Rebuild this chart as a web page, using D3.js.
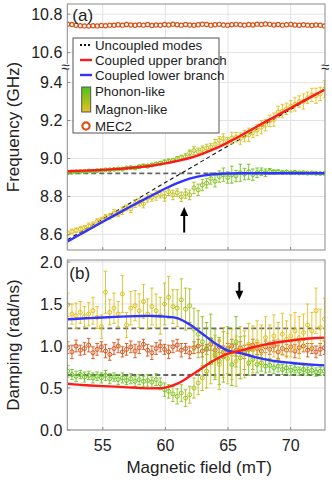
<!DOCTYPE html>
<html><head><meta charset="utf-8">
<script src="https://cdn.jsdelivr.net/npm/d3@7"></script>
<style>body{margin:0;background:#fff}svg{display:block}text{font-family:"Liberation Sans",Arial,Helvetica,sans-serif}</style>
</head><body><svg id="c" width="332" height="480"></svg>
<script>
// ---------------- data ----------------
const field = [
52.20,52.54,52.87,53.21,53.54,53.88,54.22,54.55,54.89,55.22,
55.56,55.90,56.23,56.57,56.90,57.24,57.58,57.91,58.25,58.58,
58.92,59.26,59.59,59.93,60.26,60.60,60.94,61.27,61.61,61.94,
62.28,62.62,62.95,63.29,63.62,63.96,64.30,64.63,64.97,65.30,
65.64,65.98,66.31,66.65,66.98,67.32,67.66,67.99,68.33,68.66,
69.00,69.34,69.67,70.01,70.34,70.68,71.02,71.35,71.69,72.02,
72.36,72.70];

const mec2Freq = [
10.748,10.746,10.742,10.740,10.739,10.738,10.740,10.739,10.741,10.740,
10.743,10.742,10.745,10.743,10.746,10.744,10.742,10.745,10.743,10.746,
10.741,10.744,10.742,10.746,10.744,10.748,10.745,10.743,10.746,10.744,
10.742,10.745,10.748,10.746,10.743,10.745,10.747,10.744,10.742,10.745,
10.747,10.745,10.743,10.746,10.744,10.748,10.746,10.749,10.747,10.744,
10.746,10.743,10.745,10.747,10.744,10.742,10.745,10.743,10.741,10.744,
10.742,10.739];

const upperFreq = [
8.925,8.928,8.930,8.931,8.932,8.934,8.933,8.936,8.938,8.940,
8.941,8.943,8.945,8.944,8.950,8.952,8.950,8.957,8.962,8.960,
8.966,8.971,8.975,8.982,8.985,8.990,8.998,9.005,9.010,9.030,
9.042,9.035,9.048,9.055,9.060,9.075,9.095,9.105,9.090,9.108,
9.112,9.105,9.118,9.125,9.135,9.150,9.165,9.175,9.198,9.205,
9.245,9.250,9.262,9.275,9.285,9.300,9.300,9.320,9.335,9.330,
9.340,9.365];
const upperFreqErr = [
0.004,0.004,0.004,0.004,0.004,0.004,0.004,0.004,0.004,0.004,
0.004,0.004,0.004,0.006,0.006,0.006,0.006,0.008,0.006,0.008,
0.008,0.008,0.010,0.010,0.012,0.010,0.012,0.012,0.015,0.015,
0.020,0.020,0.018,0.020,0.020,0.025,0.020,0.025,0.020,0.030,
0.025,0.030,0.030,0.035,0.025,0.030,0.035,0.030,0.030,0.035,
0.030,0.035,0.030,0.030,0.035,0.030,0.040,0.030,0.035,0.040,
0.035,0.045];

const lowerFreq = [
8.605,8.615,8.622,8.628,8.635,8.645,8.650,8.668,8.675,8.690,
8.695,8.712,8.708,8.725,8.740,8.735,8.762,8.770,8.760,8.790,
8.795,8.805,8.812,8.800,8.825,8.808,8.820,8.798,8.815,8.808,
8.845,8.835,8.860,8.870,8.895,8.880,8.905,8.915,8.900,8.915,
8.908,8.925,8.918,8.930,8.915,8.925,8.930,8.925,8.932,8.928,
8.930,8.926,8.929,8.925,8.927,8.924,8.925,8.923,8.924,8.922,
8.921,8.922];
const lowerFreqErr = [
0.012,0.012,0.012,0.015,0.012,0.015,0.015,0.015,0.015,0.015,
0.015,0.020,0.015,0.020,0.015,0.020,0.020,0.020,0.020,0.020,
0.020,0.025,0.020,0.025,0.020,0.025,0.020,0.025,0.025,0.025,
0.030,0.030,0.030,0.025,0.030,0.030,0.030,0.035,0.030,0.045,
0.030,0.045,0.030,0.040,0.030,0.025,0.020,0.020,0.015,0.012,
0.010,0.008,0.006,0.006,0.005,0.005,0.005,0.004,0.004,0.004,
0.004,0.004];

const mec2Damp = [
0.98,0.93,1.00,0.95,0.97,1.01,0.92,0.96,0.99,0.94,
0.90,0.97,1.00,0.93,0.96,0.99,0.94,0.98,1.02,0.95,
0.92,0.97,1.00,0.96,0.93,0.99,1.01,0.95,0.97,0.92,
0.98,1.00,0.94,0.96,1.02,0.95,0.99,0.93,0.97,1.00,
0.95,0.98,0.93,0.96,1.01,0.97,0.94,0.99,0.96,1.00,
0.93,0.97,0.95,0.99,0.94,0.98,1.00,0.95,0.97,0.93,
0.96,0.98];
const mec2DampErr = [
0.07,0.08,0.07,0.06,0.07,0.08,0.07,0.07,0.06,0.08,
0.07,0.07,0.08,0.06,0.07,0.07,0.08,0.07,0.06,0.07,
0.08,0.07,0.07,0.06,0.08,0.07,0.07,0.08,0.06,0.07,
0.07,0.08,0.07,0.06,0.07,0.08,0.07,0.07,0.06,0.08,
0.07,0.07,0.08,0.06,0.07,0.07,0.08,0.07,0.06,0.07,
0.08,0.07,0.07,0.06,0.08,0.07,0.07,0.08,0.06,0.07,
0.07,0.08];

const lowerDamp = [
1.49,1.38,1.36,1.40,1.35,1.38,1.42,1.34,1.23,1.64,
1.40,1.45,1.38,1.62,1.25,1.45,1.48,1.42,1.53,1.38,
1.47,1.42,1.36,1.50,1.58,1.47,1.45,1.55,1.44,1.48,
1.20,1.14,1.05,0.98,1.08,0.90,0.82,0.87,0.95,0.78,
1.05,0.86,0.92,0.80,0.84,0.78,0.80,0.76,0.77,0.74,
0.76,0.72,0.74,0.71,0.73,0.70,0.72,0.70,0.71,0.69,
0.70,0.70];
const lowerDampErr = [
0.14,0.12,0.15,0.13,0.12,0.14,0.16,0.13,0.14,0.25,
0.15,0.18,0.15,0.22,0.15,0.20,0.18,0.20,0.20,0.18,
0.22,0.20,0.22,0.25,0.25,0.20,0.22,0.25,0.25,0.20,
0.25,0.28,0.30,0.30,0.30,0.30,0.28,0.30,0.28,0.25,
0.30,0.25,0.20,0.15,0.12,0.10,0.10,0.08,0.08,0.07,
0.07,0.06,0.06,0.06,0.05,0.05,0.05,0.05,0.05,0.05,
0.05,0.04];

const upperDamp = [
0.70,0.66,0.64,0.66,0.63,0.65,0.62,0.64,0.62,0.65,
0.61,0.63,0.60,0.62,0.59,0.61,0.58,0.60,0.58,0.59,
0.57,0.60,0.55,0.48,0.46,0.43,0.40,0.44,0.38,0.42,
0.50,0.56,0.62,0.70,0.80,0.88,0.78,0.92,0.85,0.90,
0.82,0.95,0.90,1.02,0.96,1.05,1.00,1.10,1.03,1.12,
1.06,1.14,1.08,1.12,1.18,1.10,1.16,1.25,1.18,1.42,
1.22,1.32];
const upperDampErr = [
0.07,0.06,0.06,0.05,0.06,0.05,0.06,0.05,0.06,0.06,
0.06,0.05,0.06,0.06,0.05,0.06,0.06,0.06,0.06,0.07,
0.06,0.07,0.07,0.08,0.08,0.09,0.09,0.10,0.10,0.10,
0.12,0.14,0.15,0.20,0.25,0.25,0.30,0.30,0.30,0.30,
0.30,0.28,0.28,0.25,0.28,0.25,0.25,0.25,0.22,0.25,
0.22,0.25,0.22,0.25,0.22,0.25,0.22,0.25,0.22,0.27,
0.22,0.25];

// fitted curves
const fitField = [52.2,53,54,55,56,57,58,59,60,61,62,63,64,65,66,67,68,69,70,71,72,72.7];
const fitUpperFreq = [8.933,8.935,8.937,8.940,8.944,8.949,8.955,8.963,8.974,8.988,9.004,9.026,9.053,9.085,9.120,9.157,9.194,9.230,9.266,9.302,9.338,9.362];
const fitLowerFreq = [8.563,8.593,8.630,8.667,8.703,8.739,8.774,8.808,8.842,8.872,8.895,8.910,8.918,8.921,8.922,8.922,8.922,8.922,8.922,8.922,8.922,8.922];
const fitUpperDamp = [0.55,0.54,0.53,0.522,0.516,0.508,0.50,0.496,0.505,0.555,0.645,0.745,0.84,0.91,0.945,0.985,1.02,1.045,1.065,1.083,1.095,1.10];
const fitLowerDamp = [1.318,1.325,1.332,1.34,1.347,1.353,1.357,1.358,1.35,1.33,1.25,1.14,1.03,0.945,0.915,0.875,0.84,0.815,0.80,0.785,0.775,0.77];

// uncoupled modes
const uncField = [52.17,72.74];
const magnonFreq = [8.572,9.364];
const phononFreq = [8.922,8.922];
const magnonDamp = [1.21,1.21];
const phononDamp = [0.655,0.655];

// ticks
const xTicks = [55,60,65,70];
const yTicksHi = [10.6,10.8];
const yTicksLo = [8.6,8.8,9.0,9.2,9.4];
const yTicksB = [0.0,0.5,1.0,1.5,2.0];

// annotations (data coords)
const arrowA = {field:61.5, from:8.61, to:8.745};
const arrowB = {field:65.9, from:1.76, to:1.55};

// ---------------- drawing ----------------
const svg = d3.select("#c");
const L = 67.3, R = 325;
const aTop = 4, aBreak = 67, aBot = 250, bTop = 260, bBot = 430;
const x = d3.scaleLinear().domain([52.17,72.74]).range([L,R]);
const yHi = d3.scaleLinear().domain([10.525,10.853]).range([aBreak,aTop]);
const yLo = d3.scaleLinear().domain([8.518,9.482]).range([aBot,aBreak]);
const yB = d3.scaleLinear().domain([0,2.024]).range([bBot,bTop]);

const GREEN = "#66c41e", YELLOW = "#e6c11f", ORANGE = "#d95319";
const RED = "#ff1a1a", BLUE = "#3333ff";
const gridC = "#e3e3e3", frameC = "#8a8a8a", textC = "#222";
const mix = d3.interpolateRgb(YELLOW, GREEN);

// colour weights (phonon fraction) from fitted and uncoupled curves
const fUs = d3.scaleLinear().domain(fitField).range(fitUpperFreq);
const fLs = d3.scaleLinear().domain(fitField).range(fitLowerFreq);
const fMs = d3.scaleLinear().domain(uncField).range(magnonFreq);
function phLower(h){const v=(fMs(h)-fLs(h))/(fUs(h)-fLs(h));return Math.max(0,Math.min(1,v));}
const colLower = field.map(h=>mix(phLower(h)));
const colUpper = field.map(h=>mix(1-phLower(h)));

// clip paths
const defs = svg.append("defs");
function clip(id,y0,y1){defs.append("clipPath").attr("id",id).append("rect").attr("x",L).attr("y",y0).attr("width",R-L).attr("height",y1-y0);}
clip("cHi",aTop,aBreak); clip("cLo",aBreak,aBot); clip("cB",bTop,bBot);
const grad = defs.append("linearGradient").attr("id","gr").attr("x1",0).attr("y1",0).attr("x2",0).attr("y2",1);
grad.append("stop").attr("offset","0%").attr("stop-color","#4fc01a");
grad.append("stop").attr("offset","100%").attr("stop-color","#e8c21e");

// grids
function grids(y0,y1){
  svg.append("g").selectAll("line").data(xTicks).join("line")
    .attr("x1",d=>x(d)).attr("x2",d=>x(d)).attr("y1",y0).attr("y2",y1)
    .attr("stroke",gridC).attr("stroke-width",1);
}
function hgrids(ticks,ys){
  svg.append("g").selectAll("line").data(ticks).join("line")
    .attr("x1",L).attr("x2",R).attr("y1",d=>ys(d)).attr("y2",d=>ys(d))
    .attr("stroke",gridC).attr("stroke-width",1);
}
grids(aTop,aBot); grids(bTop,bBot);
hgrids(yTicksHi,yHi); hgrids(yTicksLo,yLo); hgrids(yTicksB,yB);

// uncoupled dashed lines
function dashLine(g,xs,ys,ysc,col,w,dash){
  g.append("path").datum(xs.map((d,i)=>[d,ys[i]]))
   .attr("d",d3.line().x(d=>x(d[0])).y(d=>ysc(d[1])))
   .attr("fill","none").attr("stroke",col).attr("stroke-width",w).attr("stroke-dasharray",dash);
}
const gLo = svg.append("g").attr("clip-path","url(#cLo)");
const gHi = svg.append("g").attr("clip-path","url(#cHi)");
const gB = svg.append("g").attr("clip-path","url(#cB)");
dashLine(gLo,uncField,phononFreq,yLo,"#666",1.8,"5,3");
dashLine(gLo,uncField,magnonFreq,yLo,"#111",1.1,"4,3");
dashLine(gB,uncField,magnonDamp,yB,"#666",1.8,"5,3");
dashLine(gB,uncField,phononDamp,yB,"#666",1.8,"5,3");

// series with error bars
function series(g,xs,ys,errs,ysc,cols,r,sw){
  const s = g.append("g");
  const pts = xs.map((d,i)=>({x:d,y:ys[i],e:errs?errs[i]:0,c:cols[i]}));
  if(errs){
    const eb = s.selectAll("g.eb").data(pts).join("g").attr("stroke",d=>d.c).attr("stroke-width",0.9);
    eb.append("line").attr("x1",d=>x(d.x)).attr("x2",d=>x(d.x)).attr("y1",d=>ysc(d.y-d.e)).attr("y2",d=>ysc(d.y+d.e));
    eb.append("line").attr("x1",d=>x(d.x)-1.8).attr("x2",d=>x(d.x)+1.8).attr("y1",d=>ysc(d.y-d.e)).attr("y2",d=>ysc(d.y-d.e));
    eb.append("line").attr("x1",d=>x(d.x)-1.8).attr("x2",d=>x(d.x)+1.8).attr("y1",d=>ysc(d.y+d.e)).attr("y2",d=>ysc(d.y+d.e));
  }
  s.selectAll("circle").data(pts).join("circle")
   .attr("cx",d=>x(d.x)).attr("cy",d=>ysc(d.y)).attr("r",r)
   .attr("fill","none").attr("stroke",d=>d.c).attr("stroke-width",sw);
}
const orangeCols = field.map(()=>ORANGE);
series(gHi,field,mec2Freq,null,yHi,orangeCols,2.1,1.2);
series(gLo,field,upperFreq,upperFreqErr,yLo,colUpper,2.0,1.0);
series(gLo,field,lowerFreq,lowerFreqErr,yLo,colLower,2.0,1.0);
series(gB,field,mec2Damp,mec2DampErr,yB,orangeCols,2.0,1.0);
series(gB,field,lowerDamp,lowerDampErr,yB,colLower,2.0,1.0);
series(gB,field,upperDamp,upperDampErr,yB,colUpper,2.0,1.0);

// fitted curves
function fit(g,ys,ysc,col){
  g.append("path").datum(fitField.map((d,i)=>[d,ys[i]]))
   .attr("d",d3.line().x(d=>x(d[0])).y(d=>ysc(d[1])).curve(d3.curveCatmullRom))
   .attr("fill","none").attr("stroke",col).attr("stroke-width",2.4);
}
fit(gLo,fitUpperFreq,yLo,RED); fit(gLo,fitLowerFreq,yLo,BLUE);
fit(gB,fitLowerDamp,yB,BLUE); fit(gB,fitUpperDamp,yB,RED);

// frames
svg.append("rect").attr("x",L).attr("y",aTop).attr("width",R-L).attr("height",aBot-aTop).attr("fill","none").attr("stroke",frameC);
svg.append("rect").attr("x",L).attr("y",bTop).attr("width",R-L).attr("height",bBot-bTop).attr("fill","none").attr("stroke",frameC);

// ticks (inward) and labels
function yTicks(ticks,ysc){
  const g = svg.append("g");
  g.selectAll("line").data(ticks).join("line").attr("x1",L).attr("x2",L+3).attr("y1",d=>ysc(d)).attr("y2",d=>ysc(d)).attr("stroke",frameC);
  g.selectAll("text").data(ticks).join("text").attr("x",L-5).attr("y",d=>ysc(d)).attr("dy","0.36em")
   .attr("text-anchor","end").attr("font-size",16).attr("fill",textC).text(d=>d3.format(".1f")(d));
}
yTicks(yTicksHi,yHi); yTicks(yTicksLo,yLo); yTicks(yTicksB,yB);
svg.append("g").selectAll("line").data(xTicks).join("line").attr("x1",d=>x(d)).attr("x2",d=>x(d)).attr("y1",bBot).attr("y2",bBot-3).attr("stroke",frameC);
svg.append("g").selectAll("line").data(xTicks).join("line").attr("x1",d=>x(d)).attr("x2",d=>x(d)).attr("y1",aBot).attr("y2",aBot-3).attr("stroke",frameC);
svg.append("g").selectAll("text").data(xTicks).join("text").attr("x",d=>x(d)).attr("y",bBot+15).attr("dy","0.36em")
   .attr("text-anchor","middle").attr("font-size",16).attr("fill",textC).text(d=>d);

// axis break marks
[L-2, R].forEach(bx=>{
  svg.append("rect").attr("x",bx-5).attr("y",aBreak-3).attr("width",10).attr("height",6).attr("fill","#fff");
  svg.append("text").attr("x",bx).attr("y",aBreak).attr("dy","0.35em").attr("text-anchor","middle").attr("font-size",15).attr("fill",textC).text("≈");
});

// titles
svg.append("text").attr("transform",`translate(13,${(aTop+aBot)/2}) rotate(-90)`).attr("text-anchor","middle").attr("dy","0.35em").attr("font-size",17).attr("fill",textC).text("Frequency (GHz)");
svg.append("text").attr("transform",`translate(13,${(bTop+bBot)/2}) rotate(-90)`).attr("text-anchor","middle").attr("dy","0.35em").attr("font-size",17).attr("fill",textC).text("Damping (rad/ns)");
svg.append("text").attr("x",(L+R)/2+3).attr("y",467).attr("dy","0.35em").attr("text-anchor","middle").attr("font-size",17).attr("fill",textC).text("Magnetic field (mT)");
svg.append("text").attr("x",L+5).attr("y",aTop+11).attr("dy","0.35em").attr("font-size",17).attr("fill",textC).text("(a)");
svg.append("text").attr("x",L+2).attr("y",bTop+13).attr("dy","0.35em").attr("font-size",17).attr("fill",textC).text("(b)");

// arrows
function arrow(ax,y0,y1){
  const dir = Math.sign(y1-y0);
  svg.append("line").attr("x1",ax).attr("x2",ax).attr("y1",y0).attr("y2",y1-dir*7).attr("stroke","#000").attr("stroke-width",2);
  svg.append("path").attr("d",`M${ax},${y1} L${ax-4},${y1-dir*9} L${ax+4},${y1-dir*9} Z`).attr("fill","#000");
}
arrow(x(arrowA.field),yLo(arrowA.from),yLo(arrowA.to));
arrow(x(arrowB.field),yB(arrowB.from),yB(arrowB.to));

// legend
const lg = svg.append("g");
lg.append("rect").attr("x",73).attr("y",38).attr("width",146).attr("height",95).attr("fill","#fff").attr("stroke","#555").attr("stroke-width",1);
const items = [
  {t:"Uncoupled modes",y:45,k:"dot"},
  {t:"Coupled upper branch",y:60,k:RED},
  {t:"Coupled lower branch",y:75,k:BLUE},
  {t:"Phonon-like",y:91,k:"none"},
  {t:"Magnon-like",y:109,k:"none"},
  {t:"MEC2",y:126,k:"circ"}
];
items.forEach(it=>{
  lg.append("text").attr("x",95).attr("y",it.y).attr("dy","0.36em").attr("font-size",13.3).attr("fill",textC).text(it.t);
  if(it.k==="dot") lg.append("line").attr("x1",80).attr("x2",92).attr("y1",it.y).attr("y2",it.y).attr("stroke","#111").attr("stroke-width",2).attr("stroke-dasharray","2,2");
  else if(it.k==="circ") lg.append("circle").attr("cx",86).attr("cy",it.y).attr("r",3.6).attr("fill","none").attr("stroke",ORANGE).attr("stroke-width",2.2);
  else if(it.k!=="none") lg.append("line").attr("x1",80).attr("x2",92).attr("y1",it.y).attr("y2",it.y).attr("stroke",it.k).attr("stroke-width",2.4);
});
lg.append("rect").attr("x",81.7).attr("y",87).attr("width",9).attr("height",25).attr("fill","url(#gr)").attr("stroke","#555").attr("stroke-width",1);
</script></body></html>
